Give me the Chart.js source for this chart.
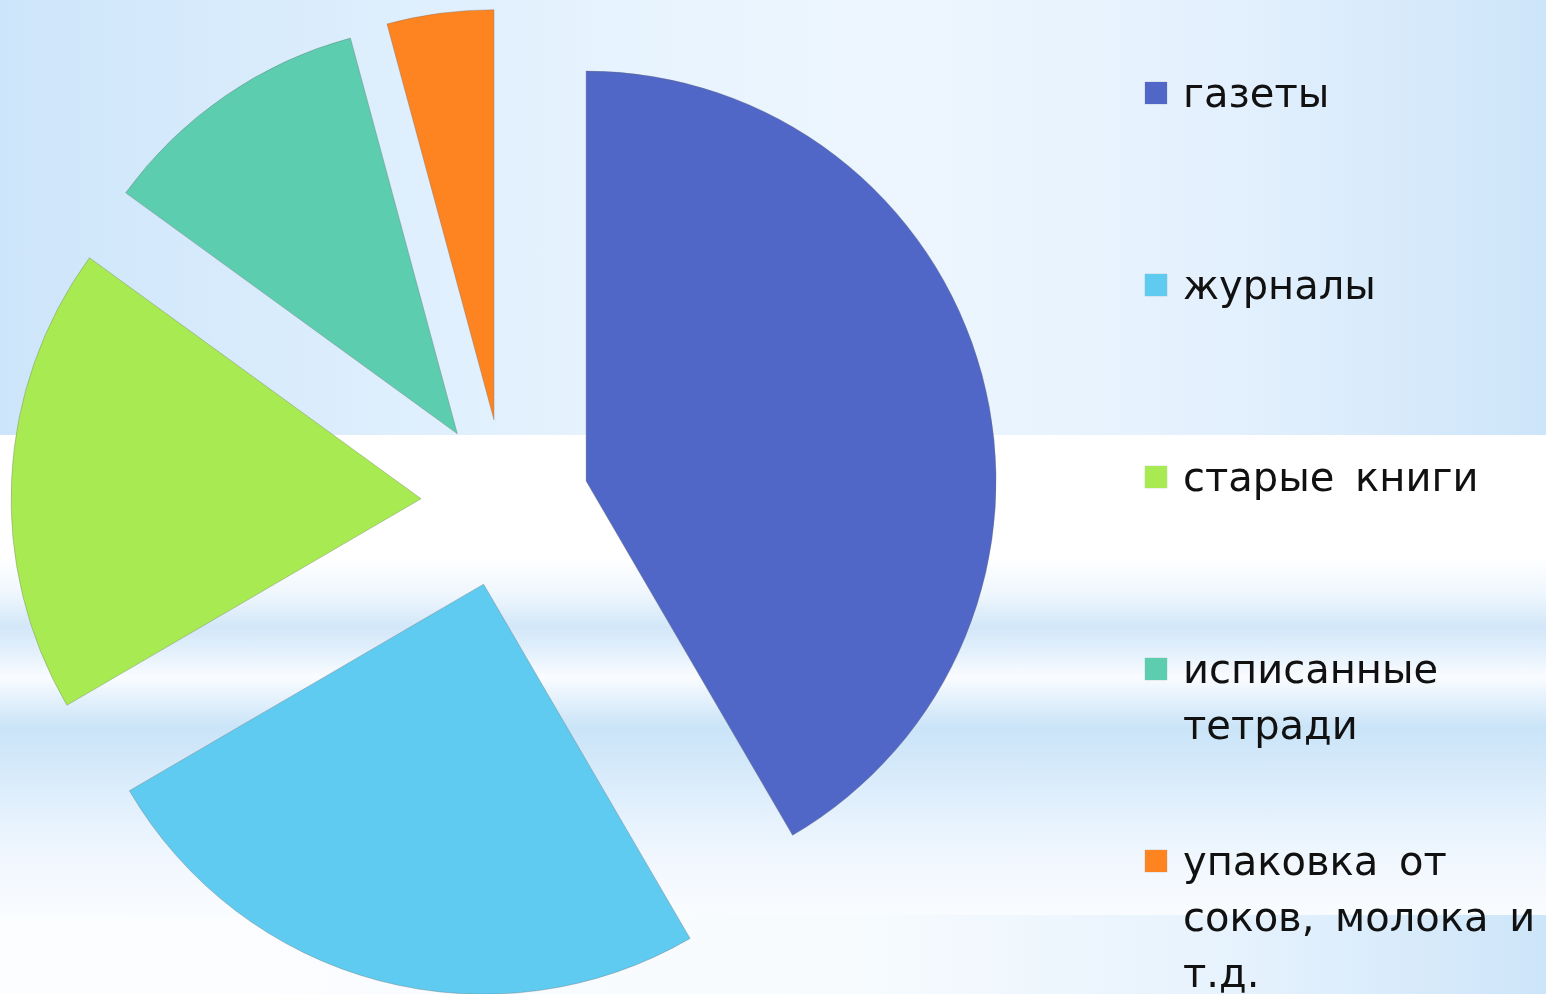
<!DOCTYPE html>
<html lang="ru">
<head>
  <meta charset="UTF-8">
  <title>Макулатура</title>
  <script src="https://cdn.jsdelivr.net/npm/chart.js"></script>
  <style>
    html, body {
      margin: 0;
      padding: 0;
      overflow: hidden;
      background: #ffffff;
    }
    .slide {
      position: relative;
      width: 1546px;
      height: 994px;
      overflow: hidden;
    }
    .bg-top {
      position: absolute;
      left: 0; top: 0;
      width: 1546px; height: 435px;
      background: linear-gradient(to right, #cde5fa 0%, #d9ecfc 18%, #e7f3fe 40%, #edf6fe 58%, #e3f0fd 80%, #cde5f9 100%);
    }
    .bg-mid {
      position: absolute;
      left: 0; top: 435px;
      width: 1546px; height: 480px;
      background: linear-gradient(to bottom, #ffffff 0px, #ffffff 122px, #eef6fd 160px, #d2e7f9 192px, #e4f1fc 218px, #fafcff 242px, #e6f2fc 262px, #cae4f8 292px, #d6eafa 335px, #e6f2fd 385px, #f3f8fe 435px, #f9fcff 480px);
    }
    .bg-bottom {
      position: absolute;
      left: 0; top: 915px;
      width: 1546px; height: 79px;
      background: linear-gradient(to right, #fcfdff 0%, #f7fbfe 55%, #e6f2fd 80%, #cde5f9 100%);
    }
    .chart-box {
      position: absolute;
      left: 0; top: 0;
      width: 1546px; height: 994px;
    }
    #legend {
      position: absolute;
      left: 1145px;
      top: 0;
      width: 401px;
      font-family: "DejaVu Sans", sans-serif;
      font-size: 40px;
      word-spacing: 8px;
      color: #111111;
    }
    .legend-item {
      position: absolute;
      left: 0;
      width: 401px;
    }
    .legend-box {
      position: absolute;
      left: 0;
      top: 17px;
      width: 22px;
      height: 22px;
      box-shadow: 0 0 1px rgba(0, 0, 0, 0.35);
    }
    .legend-text {
      margin-left: 38px;
      line-height: 56px;
      width: 385px;
    }
  </style>
</head>
<body>
  <div class="slide">
    <div class="bg-top"></div>
    <div class="bg-mid"></div>
    <div class="bg-bottom"></div>
    <div class="chart-box">
      <canvas id="pieChart"></canvas>
    </div>
    <div id="legend"></div>
  </div>

  <script>
    // categories and shares (%)
    const categories = ['газеты', 'журналы', 'старые книги', 'исписанные тетради', 'упаковка от соков, молока и т.д.'];
    const shares = [41.6, 25, 18.4, 10.8, 4.2];
    const sliceColors = ['#5067c7', '#60cbf1', '#a8ea51', '#5dcdaf', '#fe8321'];

    const pieRadius = 410;
    // chart.js moves an arc by offset/4, so this gives an 84px explode
    const explode = 336;

    // chart.js also grows and narrows each exploded arc a bit;
    // undo that so every slice keeps the same radius and true angles
    const sameRadius = {
      id: 'sameRadius',
      afterDatasetsUpdate(chart) {
        const meta = chart.getDatasetMeta(0);
        meta.data.forEach(arc => {
          const fix = 1 - Math.sin(Math.min(Math.PI, arc.circumference || 0));
          const grow = (explode / 4) * fix;
          arc.outerRadius = pieRadius - grow;
          const narrow = grow / (2 * Math.PI * pieRadius);
          arc.startAngle -= narrow;
          arc.endAngle += narrow;
        });
      }
    };

    const ctx = document.getElementById('pieChart').getContext('2d');

    const pieChart = new Chart(ctx, {
      type: 'pie',
      data: {
        labels: categories,
        datasets: [{
          data: shares,
          backgroundColor: sliceColors,
          borderWidth: 1,
          borderColor: 'rgba(110, 110, 110, 0.35)',
          offset: explode,
          hoverOffset: explode,
          clip: false
        }]
      },
      options: {
        responsive: true,
        maintainAspectRatio: false,
        animation: false,
        events: [],
        radius: pieRadius,
        layout: {
          padding: { left: 0, right: 536, top: 12, bottom: 0 }
        },
        plugins: {
          legend: { display: false },
          tooltip: { enabled: false }
        }
      },
      plugins: [sameRadius]
    });

    // html legend built from the chart data
    const legendEl = document.getElementById('legend');
    pieChart.data.labels.forEach((label, i) => {
      const item = document.createElement('div');
      item.className = 'legend-item';
      item.style.top = (65 + 192 * i) + 'px';
      const box = document.createElement('div');
      box.className = 'legend-box';
      box.style.background = pieChart.data.datasets[0].backgroundColor[i];
      const text = document.createElement('div');
      text.className = 'legend-text';
      text.textContent = label;
      item.appendChild(box);
      item.appendChild(text);
      legendEl.appendChild(item);
    });
  </script>
</body>
</html>
